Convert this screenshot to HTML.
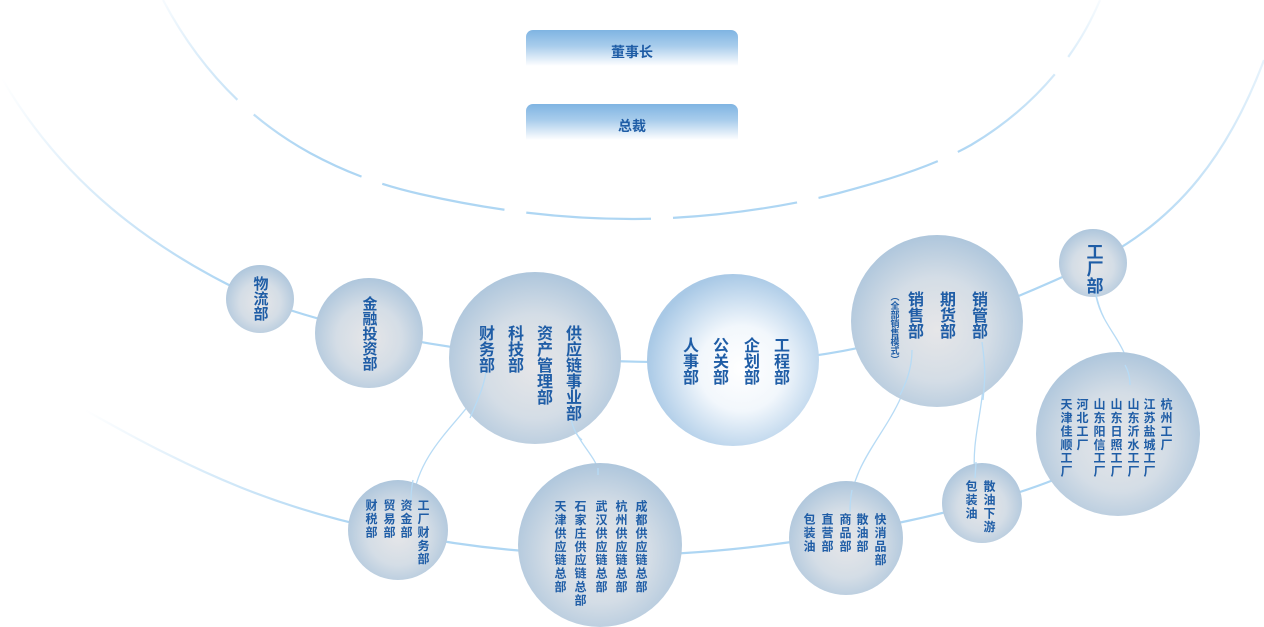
<!DOCTYPE html>
<html><head><meta charset="utf-8">
<style>
html,body{margin:0;padding:0;background:#fff;}
#w{position:relative;width:1264px;height:627px;overflow:hidden;background:#fff;font-family:"Liberation Sans","Noto Sans CJK SC",sans-serif;}
svg{position:absolute;left:0;top:0;}
.c{position:absolute;writing-mode:vertical-rl;color:#1f5da6;font-weight:bold;line-height:1;transform:translateX(-50%);white-space:nowrap;}
.box{position:absolute;left:526px;width:212px;height:36px;border-radius:7px 7px 0 0;background:linear-gradient(#7fb4e2,#a9cdec 45%,#fff);color:#1f5da6;font-weight:bold;font-size:14px;text-align:center;line-height:44px;}
</style></head><body><div id="w">
<svg width="1264" height="627">
<defs>
<radialGradient id="g" cx="50%" cy="55%" r="55%"><stop offset="0" stop-color="#e6e6e8"/><stop offset="0.55" stop-color="#d4dde6"/><stop offset="1" stop-color="#aec6dc"/></radialGradient>
<radialGradient id="gw" cx="55%" cy="55%" r="55%"><stop offset="0" stop-color="#ffffff"/><stop offset="0.45" stop-color="#f2f7fc"/><stop offset="1" stop-color="#a9c9e6"/></radialGradient>
<linearGradient id="fl" gradientUnits="userSpaceOnUse" x1="0" y1="80" x2="230" y2="290"><stop offset="0" stop-color="#aed6f3" stop-opacity="0"/><stop offset="0.6" stop-color="#aed6f3" stop-opacity="0.6"/><stop offset="1" stop-color="#aed6f3"/></linearGradient>
<linearGradient id="fr" gradientUnits="userSpaceOnUse" x1="1264" y1="60" x2="1120" y2="250"><stop offset="0" stop-color="#aed6f3" stop-opacity="0.3"/><stop offset="1" stop-color="#aed6f3"/></linearGradient>
<linearGradient id="fb" gradientUnits="userSpaceOnUse" x1="85" y1="410" x2="348" y2="523"><stop offset="0" stop-color="#aed6f3" stop-opacity="0"/><stop offset="1" stop-color="#aed6f3"/></linearGradient>
<linearGradient id="fi" gradientUnits="userSpaceOnUse" x1="0" y1="0" x2="0" y2="220"><stop offset="0" stop-color="#aed6f3" stop-opacity="0.1"/><stop offset="0.7" stop-color="#aed6f3"/><stop offset="1" stop-color="#aed6f3"/></linearGradient>
</defs>
<g fill="none" stroke-width="2.2">
<path d="M163,0 C200,70 250,120 310,153 C345,172 380,185 420,194 C490,210 560,219 632,219 C704,219 780,208 839,193 C880,182 930,168 971,145 C1030,110 1075,60 1100,0" stroke="url(#fi)" stroke-dasharray="125 22"/>
<path d="M0,75 C60,180 150,250 260,300" stroke="url(#fl)"/>
<path d="M260,300 C400,350 550,365 733,362 C850,360 950,330 1093,263" stroke="#aed6f3"/>
<path d="M1093,263 C1180,220 1230,150 1264,60" stroke="url(#fr)"/>
<path d="M85,410 C200,475 280,510 398,533" stroke="url(#fb)"/>
<path d="M398,533 C470,548 540,555 640,555 C760,552 880,530 982,503 C1040,488 1080,470 1118,450" stroke="#aed6f3"/>
<g stroke-width="1.3" stroke="#b7dbf5">
<path d="M486,372 C480,410 420,440 413,500"/>
<path d="M571,418 C575,440 595,455 598,470"/>
<path d="M912,350 C910,420 850,450 850,512"/>
<path d="M982,342 C990,400 970,430 975,478"/>
<path d="M1095,290 C1100,330 1130,340 1130,382"/>
</g>
</g>
<ellipse cx="260" cy="299" rx="34" ry="34" fill="url(#g)"/>
<ellipse cx="369" cy="333" rx="54" ry="55" fill="url(#g)"/>
<ellipse cx="535" cy="358" rx="86" ry="86" fill="url(#g)"/>
<ellipse cx="733" cy="360" rx="86" ry="86" fill="url(#gw)"/>
<ellipse cx="937" cy="321" rx="86" ry="86" fill="url(#g)"/>
<ellipse cx="1093" cy="263" rx="34" ry="34" fill="url(#g)"/>
<ellipse cx="1118" cy="434" rx="82" ry="82" fill="url(#g)"/>
<ellipse cx="982" cy="503" rx="40" ry="40" fill="url(#g)"/>
<ellipse cx="846" cy="538" rx="57" ry="57" fill="url(#g)"/>
<ellipse cx="600" cy="545" rx="82" ry="82" fill="url(#g)"/>
<ellipse cx="398" cy="530" rx="50" ry="50" fill="url(#g)"/>
<g fill="none" stroke-width="1.3" stroke="#b7dbf5">
<path d="M486,372 C484,385 480,395 470,418"/>
<path d="M571,418 C573,430 578,437 582,440"/>
<path d="M912,350 C912,370 905,385 900,395"/>
<path d="M982,342 C986,370 985,380 983,400"/>
<path d="M1095,290 C1097,300 1100,310 1104,318"/>
<path d="M413,480 C411,490 411,496 411,500"/>
<path d="M598,468 L598,475"/>
<path d="M852,490 C850,500 850,506 850,512"/>
<path d="M976,462 L975,478"/>
<path d="M1125,365 C1129,372 1130,378 1130,385"/>
</g>
</svg>
<div class="box" style="top:30px">董事长</div>
<div class="box" style="top:104px">总裁</div>

<div class="c" style="left:260px;top:276px;font-size:15px">物流部</div>
<div class="c" style="left:369px;top:296px;font-size:15px">金融投资部</div>

<div class="c" style="left:571px;top:325px;font-size:16px">供应链事业部</div>
<div class="c" style="left:542px;top:325px;font-size:16px">资产管理部</div>
<div class="c" style="left:513px;top:325px;font-size:16px">科技部</div>
<div class="c" style="left:484px;top:325px;font-size:16px">财务部</div>

<div class="c" style="left:779px;top:337px;font-size:16px">工程部</div>
<div class="c" style="left:749px;top:337px;font-size:16px">企划部</div>
<div class="c" style="left:718px;top:337px;font-size:16px">公关部</div>
<div class="c" style="left:688px;top:337px;font-size:16px">人事部</div>

<div class="c" style="left:977px;top:291px;font-size:16px">销管部</div>
<div class="c" style="left:945px;top:291px;font-size:16px">期货部</div>
<div class="c" style="left:913px;top:291px;font-size:16px">销售部</div>
<div class="c" style="left:894px;top:292px;font-size:9px">（全部销售模式）</div>

<div class="c" style="left:1093px;top:243px;font-size:17px">工厂部</div>

<div class="c" style="left:1166px;top:398px;font-size:12px;letter-spacing:1.4px">杭州工厂</div>
<div class="c" style="left:1149px;top:398px;font-size:12px;letter-spacing:1.4px">江苏盐城工厂</div>
<div class="c" style="left:1133px;top:398px;font-size:12px;letter-spacing:1.4px">山东沂水工厂</div>
<div class="c" style="left:1116px;top:398px;font-size:12px;letter-spacing:1.4px">山东日照工厂</div>
<div class="c" style="left:1099px;top:398px;font-size:12px;letter-spacing:1.4px">山东阳信工厂</div>
<div class="c" style="left:1082px;top:398px;font-size:12px;letter-spacing:1.4px">河北工厂</div>
<div class="c" style="left:1066px;top:398px;font-size:12px;letter-spacing:1.4px">天津佳顺工厂</div>

<div class="c" style="left:989px;top:480px;font-size:12px;letter-spacing:1.4px">散油下游</div>
<div class="c" style="left:971px;top:480px;font-size:12px;letter-spacing:1.4px">包装油</div>

<div class="c" style="left:880px;top:513px;font-size:12px;letter-spacing:1.4px">快消品部</div>
<div class="c" style="left:862px;top:513px;font-size:12px;letter-spacing:1.4px">散油部</div>
<div class="c" style="left:845px;top:513px;font-size:12px;letter-spacing:1.4px">商品部</div>
<div class="c" style="left:827px;top:513px;font-size:12px;letter-spacing:1.4px">直营部</div>
<div class="c" style="left:809px;top:513px;font-size:12px;letter-spacing:1.4px">包装油</div>

<div class="c" style="left:641px;top:500px;font-size:12px;letter-spacing:1.4px">成都供应链总部</div>
<div class="c" style="left:621px;top:500px;font-size:12px;letter-spacing:1.4px">杭州供应链总部</div>
<div class="c" style="left:601px;top:500px;font-size:12px;letter-spacing:1.4px">武汉供应链总部</div>
<div class="c" style="left:580px;top:500px;font-size:12px;letter-spacing:1.4px">石家庄供应链总部</div>
<div class="c" style="left:560px;top:500px;font-size:12px;letter-spacing:1.4px">天津供应链总部</div>

<div class="c" style="left:423px;top:499px;font-size:12px;letter-spacing:1.4px">工厂财务部</div>
<div class="c" style="left:406px;top:499px;font-size:12px;letter-spacing:1.4px">资金部</div>
<div class="c" style="left:389px;top:499px;font-size:12px;letter-spacing:1.4px">贸易部</div>
<div class="c" style="left:371px;top:499px;font-size:12px;letter-spacing:1.4px">财税部</div>
</div></body></html>
